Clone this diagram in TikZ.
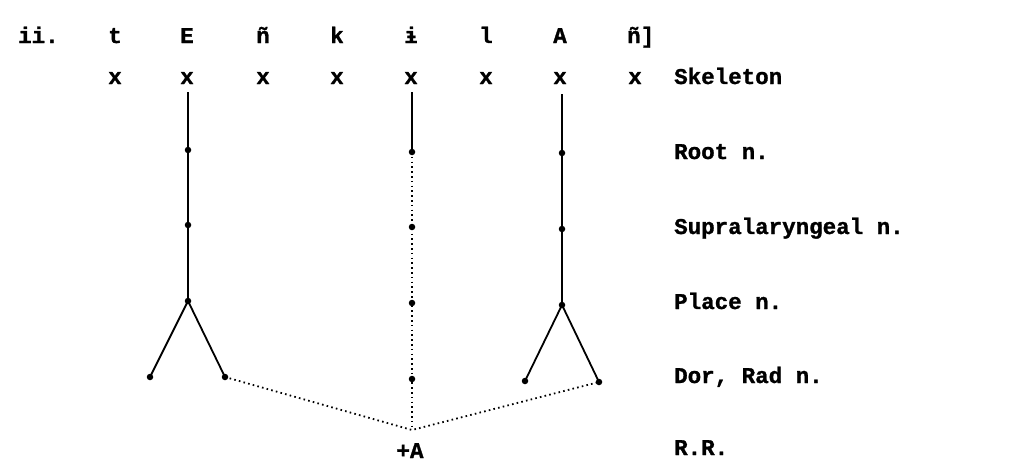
\documentclass[tikz,border=0pt]{standalone}
\usepackage{fontspec}
\setmainfont{Liberation Mono}[BoldFeatures={FakeBold=1.2}]
\begin{document}
\begin{tikzpicture}[x=1pt,y=-1pt,
  txt/.style={font=\bfseries\fontsize{22.5}{24}\selectfont, inner sep=0pt},
  lab/.style={txt, anchor=base west},
  seg/.style={txt, anchor=base},
  dotn/.style={circle, fill=black, inner sep=0pt, minimum size=6.5pt},
  ln/.style={line width=1.8pt},
  dl/.style={line width=1.8pt, dash pattern=on 1.6pt off 3.2pt}]
\useasboundingbox (0,0) rectangle (1019,463);
% top row
\node[txt, anchor=base west] (ii) at (18,43) {ii.};
\foreach \n/\x/\s in {t/115/t, e/187/E, n1/263/ñ, k/337/k, i/411/ɨ, l/486/l, a/560/A}
  \node[seg] (s\n) at (\x,43) {\s};
\node[txt, anchor=base west] (sn2) at (627,43) {ñ]};
\foreach \n/\x in {1/115,2/187,3/263,4/337,5/411,6/486,7/560,8/635}
  \node[seg] (x\n) at (\x,84) {x};
% labels
\node[lab] (skel) at (674,84) {Skeleton};
\node[lab] (root) at (674,159) {Root n.};
\node[lab] (supra) at (674,234) {Supralaryngeal n.};
\node[lab] (place) at (674,309) {Place n.};
\node[lab] (dor) at (674,383) {Dor, Rad n.};
\node[lab] (rr) at (674,455) {R.R.};
% left tree
\coordinate (eT) at (188,92);
\node[dotn] (eR) at (188,150) {};
\node[dotn] (eS) at (188,225) {};
\node[dotn] (eP) at (188,301) {};
\node[dotn] (eD) at (150,377) {};
\node[dotn] (eQ) at (225,377) {};
\draw[ln] (eT) -- (eR.center) -- (eS.center) -- (eP.center);
\draw[ln] (eD.center) -- (eP.center) -- (eQ.center);
% middle
\coordinate (iT) at (412,92);
\node[dotn] (iR) at (412,152) {};
\node[dotn] (iS) at (412,227) {};
\node[dotn] (iP) at (412,303) {};
\node[dotn] (iD) at (412,379) {};
\coordinate (ra) at (412,430);
\node[txt, anchor=base] (plusA) at (410,458) {+A};
\draw[ln] (iT) -- (iR.center);
\draw[dl] (iR.center) -- (ra);
% right tree
\coordinate (aT) at (562,94);
\node[dotn] (aR) at (562,153) {};
\node[dotn] (aS) at (562,229) {};
\node[dotn] (aP) at (562,305) {};
\node[dotn] (aD) at (525,381) {};
\node[dotn] (aQ) at (599,382) {};
\draw[ln] (aT) -- (aR.center) -- (aS.center) -- (aP.center);
\draw[ln] (aD.center) -- (aP.center) -- (aQ.center);
% spreading
\draw[dl] (eQ.center) -- (ra) -- (aQ.center);
\end{tikzpicture}
\end{document}
